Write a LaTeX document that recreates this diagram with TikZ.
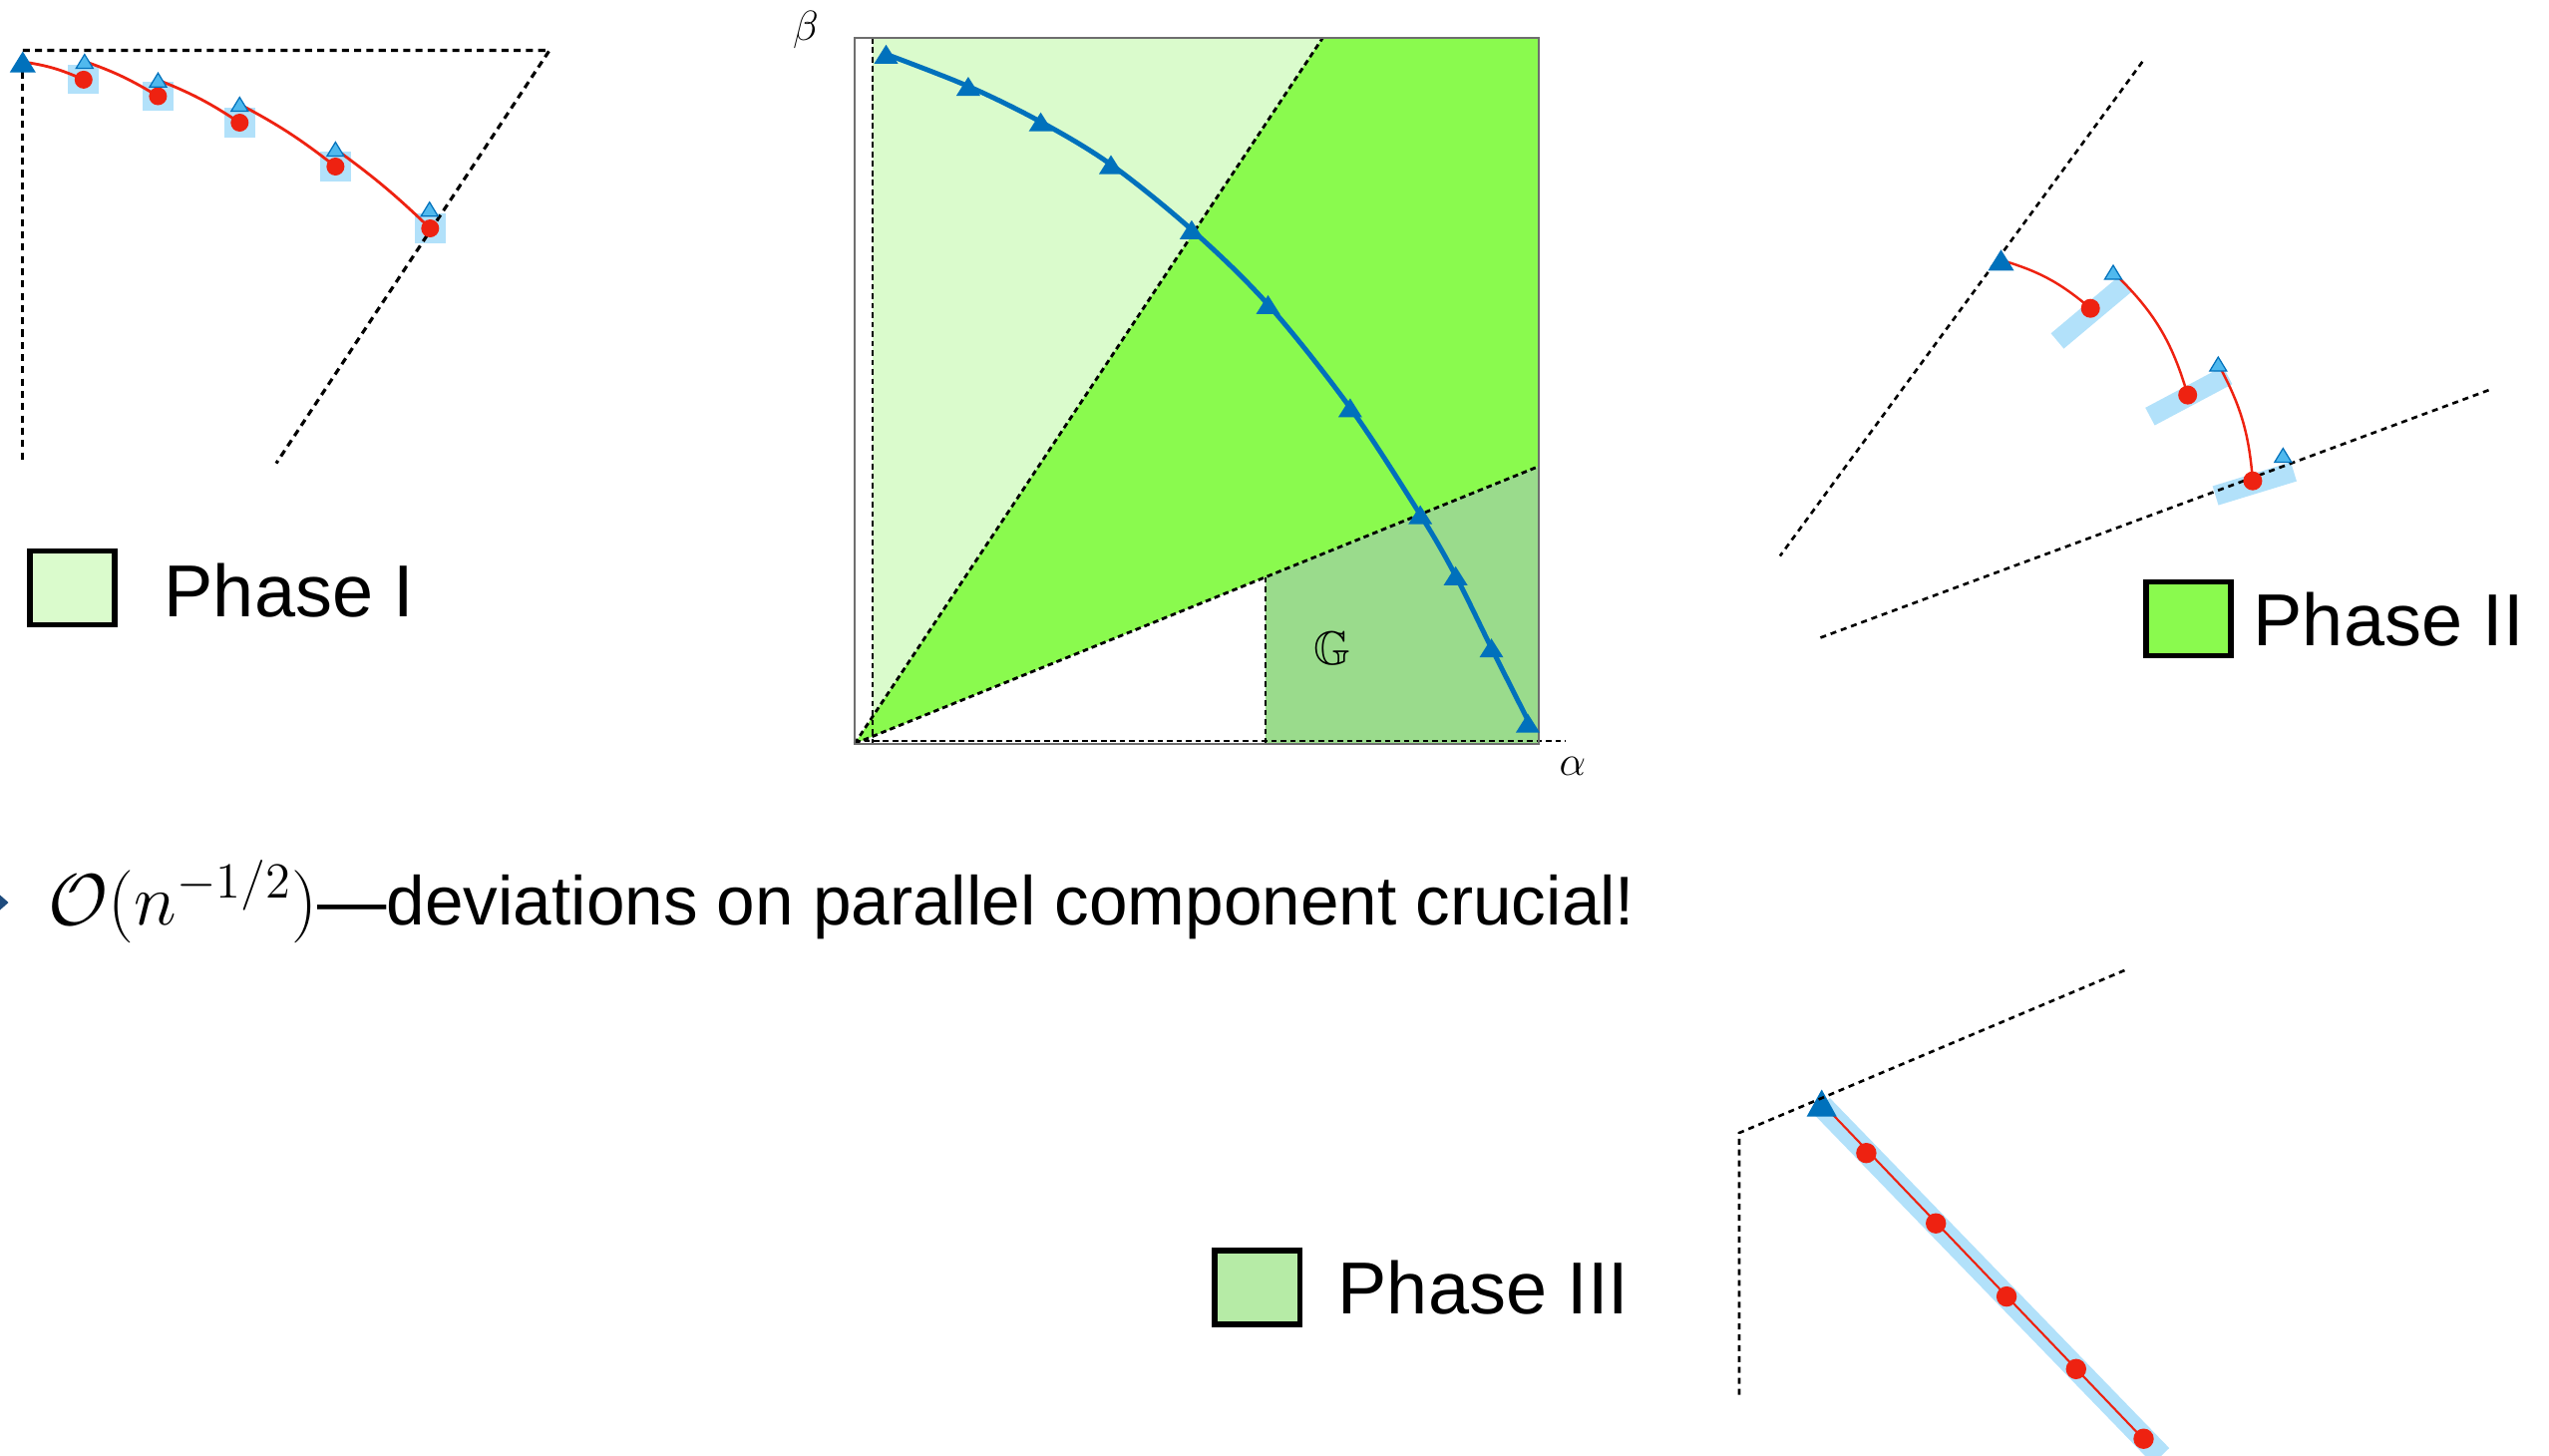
\documentclass[tikz,border=0pt]{standalone}
\usepackage{amssymb}
\usepackage{fontspec}
\setmainfont{Liberation Sans}
\usetikzlibrary{calc}
\definecolor{dblue}{RGB}{0,113,188}
\definecolor{lblue}{RGB}{80,185,238}
\definecolor{pblue}{RGB}{178,225,250}
\definecolor{rred}{RGB}{238,34,17}
\definecolor{ph1}{RGB}{218,251,204}
\definecolor{ph2}{RGB}{138,250,78}
\definecolor{ph3}{RGB}{182,235,166}
\definecolor{greg}{RGB}{154,219,140}
\definecolor{navy}{RGB}{30,75,125}
\definecolor{boxgray}{RGB}{110,110,110}
\tikzset{
  pics/dtri/.style={code={\fill[dblue] (-13,10.5) -- (13,10.5) -- (0,-10.5) -- cycle;}},
  pics/btri/.style={code={\fill[dblue] (-15,13.5) -- (15,13.5) -- (0,-13.5) -- cycle;}},
  pics/mtri/.style={code={\fill[dblue] (-12,9.5) -- (12,9.5) -- (0,-9.5) -- cycle;}},
  pics/ltri/.style={code={\filldraw[fill=lblue, draw=dblue, line width=0.35pt] (-8.5,7) -- (8.5,7) -- (0,-7) -- cycle;}},
  pdash/.style={dash pattern=on 2pt off 1.5pt, line width=0.9pt},
  sdash/.style={dash pattern=on 1.7pt off 1.4pt, line width=0.75pt},
  mdash/.style={dash pattern=on 1.6pt off 1.1pt, line width=0.8pt},
  sq/.style={fill=pblue, minimum width=0.31cm, minimum height=0.29cm, inner sep=0pt},
  rbar/.style={fill=pblue, minimum height=0.2cm, inner sep=0pt},
  legbox/.style={draw=black, line width=1.6pt, minimum width=0.85cm, minimum height=0.74cm, inner sep=0pt},
  legtext/.style={anchor=base west, inner sep=0pt, font=\fontsize{21}{25}\selectfont},
  redline/.style={rred, line width=0.8pt},
}
\begin{document}
\begin{tikzpicture}[x=0.01cm,y=-0.01cm]
\useasboundingbox (0,0) rectangle (2556,1460);

% ================= main panel =================
\fill[ph1] (875,38) -- (1326.3,38) -- (875,718.6) -- cycle;
\fill[ph2] (857,745.7) -- (1326.3,38) -- (1543,38) -- (1543,467.6) -- cycle;
\fill[greg] (1269,578.7) -- (1543,467.6) -- (1543,745.7) -- (1269,745.7) -- cycle;
\draw[mdash] (875,38) -- (875,745.7);
\draw[mdash] (857,745.7) -- (1326.3,38);
\draw[mdash] (857,745.7) -- (1543,467.6);
\draw[mdash] (1269,578.7) -- (1269,745.7);
\draw[mdash] (857,743) -- (1570,743);
\draw[boxgray, line width=0.6pt] (857,38) rectangle (1543,745.7);
\draw[dblue, line width=1.4pt, line cap=round] plot[smooth, tension=0.55] coordinates {(888.5,54.3) (970.9,86.5) (1043.6,122.2) (1114,165) (1194.9,230.3) (1271.5,305.4) (1353.9,408.9) (1424.2,516.1) (1459.6,577.3) (1495.5,649.7) (1535,728)};
\foreach \x/\y in {888.5/54.3, 970.9/86.5, 1043.6/122.2, 1114/165, 1194.9/230.3, 1271.5/305.4, 1353.9/408.9, 1424.2/516.1, 1459.6/577.3, 1495.5/649.7, 1532/725}
  \pic at (\x,\y) {mtri};
\node[font=\fontsize{12.5}{14}\selectfont] (beta) at (808,30) {$\beta$};
\node[font=\fontsize{12.5}{14}\selectfont] (alpha) at (1577,768) {$\alpha$};
\node[font=\fontsize{13.5}{16}\selectfont] (G) at (1336,650) {$\mathbb{G}$};

% ================= panel I =================
\coordinate (T0) at (22.8,62);
\coordinate (D1) at (83.8,79.9);
\coordinate (D2) at (158.4,96.5);
\coordinate (D3) at (240.3,123);
\coordinate (D4) at (336.4,167);
\coordinate (D5) at (431.3,229);
\coordinate (L1) at (84.8,61.5);
\coordinate (L2) at (158.5,80.2);
\coordinate (L3) at (240.3,104.5);
\coordinate (L4) at (336.4,149.5);
\coordinate (L5) at (430.7,209.7);
\foreach \i in {1,...,5} \node[sq] (S\i) at (D\i) {};
\draw[pdash] (22.8,72) -- (22.8,464.6);
\draw[pdash] (22.8,50.5) -- (551,50.5) -- (277,464.6);
\draw[redline] (T0) to[bend left=8] (D1);
\draw[redline] (L1) to[bend left=6] (D2);
\draw[redline] (L2) to[bend left=6] (D3);
\draw[redline] (L3) to[bend left=5] (D4);
\draw[redline] (L4) to[bend left=4] (D5);
\foreach \i in {1,...,5} \fill[rred] (D\i) circle[radius=0.09cm];
\foreach \i in {1,...,5} \pic at (L\i) {ltri};
\pic at (T0) {dtri};
\node[legbox, fill=ph1] (k1) at (72.5,589.6) {};
\node[legtext] (l1) at (164,618.3) {Phase I};

% ================= panel II =================
\coordinate (U0) at (2006.5,260.8);
\coordinate (E1) at (2096.2,309.2);
\coordinate (E2) at (2193.7,396.1);
\coordinate (E3) at (2258.9,482.2);
\coordinate (M1) at (2119,273);
\coordinate (M2) at (2224.3,365);
\coordinate (M3) at (2289.3,456.5);
\node[rbar, minimum width=0.9cm, rotate=40] (r1) at (2097.5,313) {};
\node[rbar, minimum width=0.88cm, rotate=28] (r2) at (2194.8,397) {};
\node[rbar, minimum width=0.82cm, rotate=17] (r3) at (2260.8,485) {};
\draw[sdash] (2148.3,61.9) -- (1784.9,557.5);
\draw[sdash] (2495.5,391.2) -- (1822.3,640.6);
\draw[redline, line width=0.7pt] (U0) to[bend left=12] (E1);
\draw[redline, line width=0.7pt] (M1) to[bend left=15] (E2);
\draw[redline, line width=0.7pt] (M2) to[bend left=12] (E3);
\foreach \i in {1,2,3} \fill[rred] (E\i) circle[radius=0.095cm];
\foreach \i in {1,2,3} \pic at (M\i) {ltri};
\pic at (U0) {dtri};
\node[legbox, fill=ph2] (k2) at (2194.6,620.5) {};
\node[legtext] (l2) at (2259,647) {Phase II};

% ================= panel III =================
\coordinate (V0) at (1826.7,1106);
\coordinate (B0) at (1826.7,1109);
\coordinate (B1) at (2167,1460);
\coordinate (F1) at (1871.4,1156.2);
\coordinate (F2) at (1941.2,1226.7);
\coordinate (F3) at (2012.1,1300.1);
\coordinate (F4) at (2081.8,1372.8);
\coordinate (F5) at (2149.5,1442.7);
\coordinate (Fend) at (2155,1449);
\draw[pblue, line width=6.5pt] (B0) -- (B1);
\draw[rred, line width=0.6pt] (V0) -- (Fend);
\foreach \i in {1,...,5} \fill[rred] (F\i) circle[radius=0.102cm];
\pic at (V0) {btri};
\draw[sdash] (1744,1398.5) -- (1744,1136) -- (2130.4,973);
\node[legbox, fill=ph3] (k3) at (1260.8,1291) {};
\node[legtext] (l3) at (1341,1317) {Phase III};

% ================= bottom text =================
\fill[navy] (0,897.5) -- (8.5,905) -- (0,912.5) -- cycle;
\node[anchor=base west, inner sep=0pt, font=\fontsize{19.7}{24}\selectfont] (txt) at (48,927) {$\mathcal{O}(n^{-1/2})$—deviations on parallel component crucial!};
\end{tikzpicture}
\end{document}
